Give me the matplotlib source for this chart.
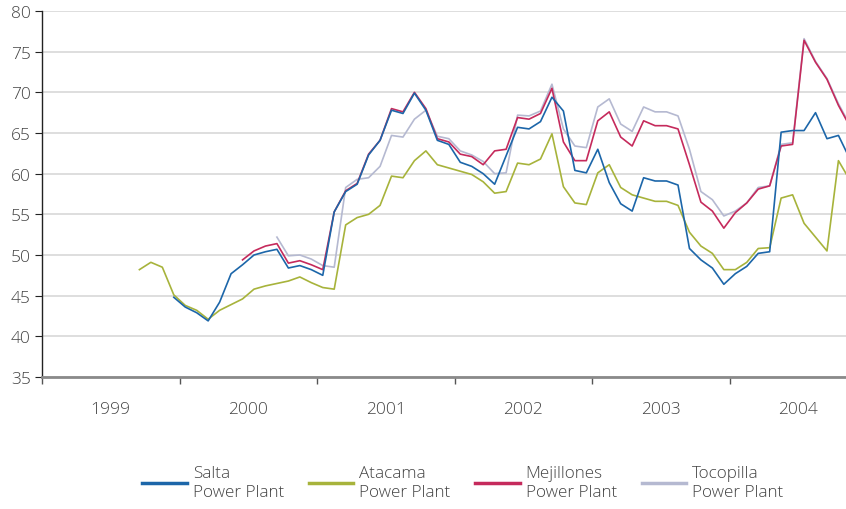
import matplotlib.pyplot as plt
import numpy as np

nan = np.nan

# monthly values, index 0 = Jan 1999
years = ['1999', '2000', '2001', '2002', '2003', '2004']

salta = [nan] * 11 + [
    44.8, 43.6, 42.9, 41.9, 44.2, 47.7, 48.8, 50.0, 50.4, 50.7, 48.4, 48.7, 48.2,
    47.5, 55.3, 57.8, 58.7, 62.3, 64.1, 67.8, 67.4, 69.9, 67.8, 64.1, 63.6,
    61.4, 60.9, 60.0, 58.7, 62.2, 65.7, 65.5, 66.4, 69.4, 67.7, 60.4, 60.1,
    63.0, 58.9, 56.3, 55.4, 59.5, 59.1, 59.1, 58.6, 50.8, 49.4, 48.4, 46.4,
    47.7, 48.6, 50.2, 50.4, 65.1, 65.3, 65.3, 67.5, 64.3, 64.7, 61.8]

atacama = [nan] * 8 + [
    48.2, 49.1, 48.5, 45.1,
    43.8, 43.2, 42.1, 43.2, 43.9, 44.6, 45.8, 46.2, 46.5, 46.8, 47.3, 46.6,
    46.0, 45.8, 53.7, 54.6, 55.0, 56.1, 59.7, 59.5, 61.6, 62.8, 61.1, 60.7,
    60.3, 59.9, 59.0, 57.6, 57.8, 61.3, 61.1, 61.8, 64.9, 58.4, 56.4, 56.2,
    60.1, 61.1, 58.3, 57.4, 57.0, 56.6, 56.6, 56.1, 52.8, 51.1, 50.2, 48.2,
    48.2, 49.1, 50.8, 50.9, 57.0, 57.4, 53.9, 52.2, 50.5, 61.6, 59.2]

mejillones = [nan] * 17 + [
    49.4, 50.5, 51.1, 51.4, 49.0, 49.3, 48.8,
    48.2, 55.3, 57.9, 58.8, 62.4, 64.1, 68.0, 67.6, 70.0, 68.0, 64.3, 63.9,
    62.4, 62.1, 61.1, 62.8, 63.0, 66.9, 66.7, 67.4, 70.5, 63.9, 61.6, 61.6,
    66.5, 67.6, 64.5, 63.4, 66.5, 65.9, 65.9, 65.5, 61.1, 56.5, 55.4, 53.3,
    55.2, 56.4, 58.1, 58.5, 63.4, 63.6, 76.4, 73.7, 71.6, 68.4, 65.8]

tocopilla = [nan] * 20 + [
    52.2, 49.9, 50.0, 49.5,
    48.7, 48.5, 58.3, 59.3, 59.5, 60.9, 64.7, 64.5, 66.7, 67.8, 64.6, 64.3,
    62.8, 62.3, 61.5, 60.0, 60.1, 67.2, 67.1, 67.7, 71.0, 65.5, 63.4, 63.2,
    68.2, 69.2, 66.1, 65.2, 68.2, 67.6, 67.6, 67.1, 63.0, 57.8, 56.8, 54.8,
    55.4, 56.4, 58.3, 58.5, 63.6, 63.8, 76.6, 73.8, 71.7, 68.6, 66.0]

series = [
    ('Tocopilla\nPower Plant', tocopilla, '#b5b9d1'),
    ('Mejillones\nPower Plant', mejillones, '#c52a5c'),
    ('Atacama\nPower Plant', atacama, '#a7b33b'),
    ('Salta\nPower Plant', salta, '#1c66a9'),
]

plt.rcParams['font.family'] = ['Open Sans', 'DejaVu Sans']
plt.rcParams['font.weight'] = 'light'

fig = plt.figure(figsize=(8.46, 5.10), dpi=100)
ax = fig.add_axes([42 / 846, 1 - 378 / 510, 1 - 42 / 846, 366 / 510])

lines = {}
for nombre, valores, color in series:
    x = np.arange(len(valores))
    ln, = ax.plot(x, valores, color=color, lw=1.2, label=nombre)
    lines[nombre] = ln

ax.set_yticks(range(35, 81, 5))
ax.yaxis.grid(True, color='#d8d8d8', lw=1.2)
ax.set_axisbelow(True)

ax.set_xticks([-0.5 + 12 * k for k in range(7)])
ax.set_xticklabels([])
ax.set_xticks([5.5 + 12 * k for k in range(len(years))], minor=True)
ax.set_xticklabels(years, minor=True)
ax.set_ylim(35, 80)
ax.set_xlim(-0.5, 69.66)

ax.tick_params(axis='x', which='minor', length=0, pad=17, labelsize=12.5, labelcolor='#444444')
ax.tick_params(axis='x', which='major', length=5, color='#555555', width=1)
ax.tick_params(axis='y', length=5, color='#222222', labelsize=12.5, labelcolor='#444444', pad=3)

for s in ['top', 'right']:
    ax.spines[s].set_visible(False)
ax.spines['left'].set_color('#222222')
ax.spines['left'].set_linewidth(1.0)
ax.spines['bottom'].set_color('#8a8a8a')
ax.spines['bottom'].set_linewidth(2.0)

orden = ['Salta\nPower Plant', 'Atacama\nPower Plant', 'Mejillones\nPower Plant', 'Tocopilla\nPower Plant']
handles = [lines[n] for n in orden]
leg = fig.legend(handles, orden, loc='center', bbox_to_anchor=(0.547, 0.052), ncol=4,
                 frameon=False, fontsize=12.3, handlelength=2.6, handletextpad=0.35,
                 columnspacing=1.45, labelcolor='#444444')
for lh in leg.get_lines():
    lh.set_linewidth(2.5)

fig.savefig('out.png', dpi=100)
